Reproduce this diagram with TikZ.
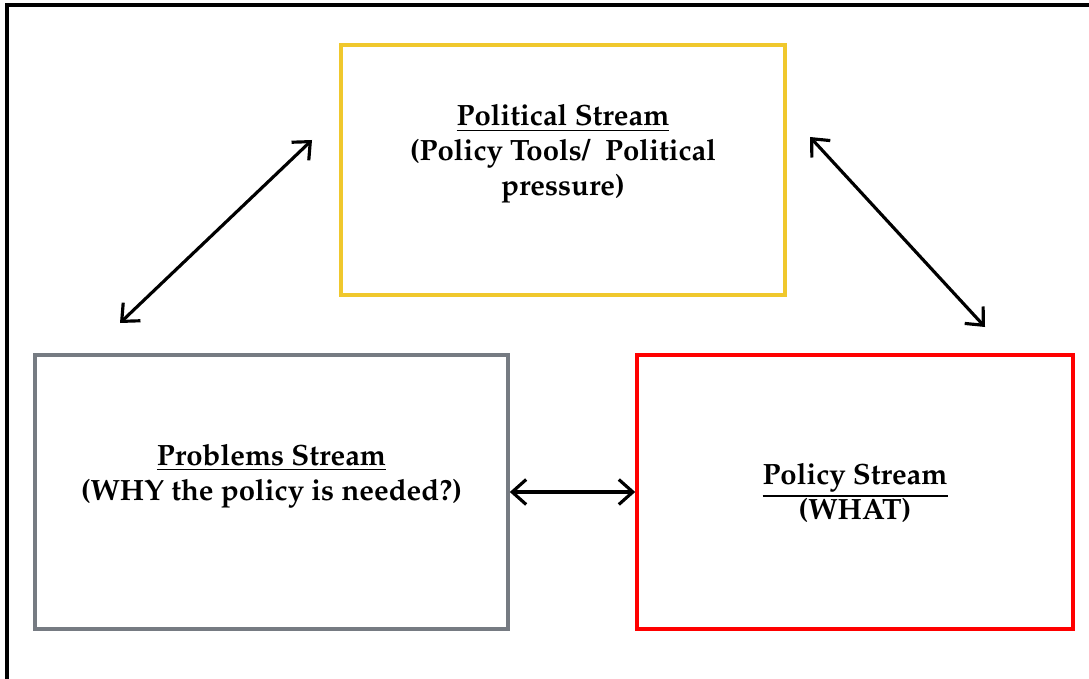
\documentclass[tikz,border=0pt]{standalone}
\usepackage[T1]{fontenc}
\usepackage{mathpazo}
\usetikzlibrary{arrows.meta}

\definecolor{politicalyellow}{RGB}{240,200,45}
\definecolor{problemgray}{RGB}{118,123,130}
\definecolor{policyred}{RGB}{255,0,0}

\begin{document}
\begin{tikzpicture}[x=0.02cm, y=-0.02cm,
		streambox/.style={draw, line width=2.1pt, minimum height=5.48cm},
		streamtext/.style={align=center, font=\fontsize{16.7}{20}\selectfont\bfseries},
		link/.style={{Straight Barb[length=2.8mm,width=5mm]}-{Straight Barb[length=2.8mm,width=5mm]}, line width=1.8pt}
	]
	\useasboundingbox (0,0) rectangle (1089,679);
	\draw[line width=1.8pt] (7,679) -- (7,5) -- (1089,5);

	\node[streambox, draw=politicalyellow, minimum width=8.88cm, minimum height=5cm] (political) at (563,170) {};
	\node[streambox, draw=problemgray, minimum width=9.46cm] (problems) at (271.5,492) {};
	\node[streambox, draw=policyred, minimum width=8.72cm] (policy) at (855,492) {};

	\node[streamtext] (politicaltxt) at (563,154) {\underline{Political Stream}\\(Policy Tools/\ \ Political\\pressure)};
	\node[streamtext] (problemstxt) at (271.5,476) {\underline{Problems Stream}\\(WHY the policy is needed?)};
	\node[streamtext] (policytxt) at (855,493) {\underline{Policy Stream}\\(WHAT)};

	\coordinate (leftlow) at (120,323);
	\coordinate (lefthigh) at (312,140);
	\coordinate (righthigh) at (810,137);
	\coordinate (rightlow) at (985,327);

	\draw[link] (leftlow) -- (lefthigh);
	\draw[link] (righthigh) -- (rightlow);
	\draw[link] (problems.east) -- (policy.west);
\end{tikzpicture}
\end{document}
